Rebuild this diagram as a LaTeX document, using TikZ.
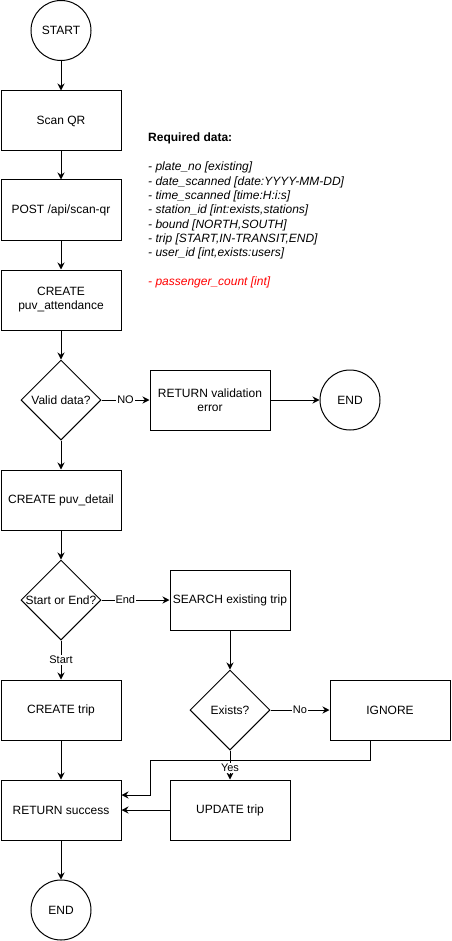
\documentclass[tikz,border=0pt]{standalone}
\usepackage{fontspec}
\setmainfont{Liberation Sans}
\usetikzlibrary{shapes.geometric,arrows.meta}
\begin{document}
\begin{tikzpicture}[x=1pt,y=-1pt,
  every node/.style={font=\fontsize{12}{14}\selectfont},
  box/.style={draw,line width=1pt,minimum width=120pt,minimum height=60pt,inner sep=0pt,align=center},
  term/.style={draw,circle,line width=1pt,minimum size=60pt,inner sep=0pt},
  dia/.style={draw,diamond,line width=1pt,minimum width=80pt,minimum height=80pt,inner sep=0pt},
  arr/.style={line width=1pt,-{Stealth[length=7pt,width=7pt]}},
  lbl/.style={fill=white,inner sep=1pt,font=\fontsize{11}{13}\selectfont}]
\useasboundingbox (0,0) rectangle (451,941);
\node[term] (start) at (61,30.5) {START};
\node[box] (scan) at (61,121) {Scan QR};
\node[box] (post) at (61,210) {POST /api/scan-qr};
\node[box] (att) at (61,300) {CREATE\\puv\_attendance};
\node[dia] (valid) at (61,400) {};
\node (validt) at (valid) {Valid data?};
\node[box] (rverr) at (210,400) {RETURN validation\\error};
\node[term] (end1) at (350,400) {END};
\node[box] (det) at (61,500) {CREATE puv\_detail};
\node[dia] (soe) at (61,600) {};
\node (soet) at (soe) {Start or End?};
\node[box] (search) at (230,600) {SEARCH existing trip};
\node[box] (ctrip) at (61,710) {CREATE trip};
\node[dia] (exists) at (230,710) {};
\node (existst) at (exists) {Exists?};
\node[box] (ignore) at (390,710) {IGNORE};
\node[box] (rsucc) at (61,810) {RETURN success};
\node[box] (update) at (230,810) {UPDATE trip};
\node[term] (end2) at (61,910) {END};
\node[anchor=north west,align=left,inner sep=0pt,font=\fontsize{12}{14.35}\selectfont] (req) at (148,133) {%
\textbf{Required data:}\\[14.6pt]
\textit{- plate\_no [existing]}\\
\textit{- date\_scanned [date:YYYY-MM-DD]}\\
\textit{- time\_scanned [time:H:i:s]}\\
\textit{- station\_id [int:exists,stations]}\\
\textit{- bound [NORTH,SOUTH]}\\
\textit{- trip [START,IN-TRANSIT,END]}\\
\textit{- user\_id [int,exists:users]}\\[14.6pt]
\textcolor{red}{\textit{- passenger\_count [int]}}};
\draw[arr] (start) -- (scan);
\draw[arr] (scan) -- (post);
\draw[arr] (post) -- (att);
\draw[arr] (att) -- (valid.north);
\draw[arr] (valid.east) -- node[lbl,pos=0.5] {NO} (rverr.west);
\draw[arr] (rverr) -- (end1);
\draw[arr] (valid.south) -- (det.north);
\draw[arr] (det) -- (soe.north);
\draw[arr] (soe.east) -- node[lbl,pos=0.35] {End} (search.west);
\draw[arr] (soe.south) -- node[lbl] {Start} (ctrip.north);
\draw[arr] (search) -- (exists.north);
\draw[arr] (exists.east) -- node[lbl,pos=0.5] {No} (ignore.west);
\draw[arr] (exists.south) -- node[lbl,pos=0.6] {Yes} (update.north);
\coordinate (k1) at (150,760);
\draw[arr] ([xshift=-20pt]ignore.south) |- (k1) |- ([yshift=15pt]rsucc.east);
\draw[arr] (update) -- (rsucc);
\draw[arr] (ctrip) -- (rsucc);
\draw[arr] (rsucc) -- (end2);
\end{tikzpicture}
\end{document}
